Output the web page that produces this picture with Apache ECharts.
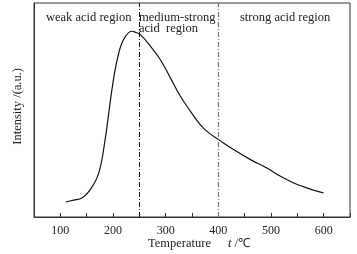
<!DOCTYPE html>
<html>
<head>
<meta charset="utf-8">
<script src="https://cdn.jsdelivr.net/npm/echarts@6/dist/echarts.min.js"></script>
<style>
  html, body { margin: 0; padding: 0; background: #fff; }
  #chart { width: 357px; height: 254px; }
</style>
</head>
<body>
<div id="chart"></div>
<script>
// temperature (℃) vs intensity (a.u., arbitrary scale 0-100)
const temps = [110, 125, 141, 157, 173, 185, 198, 208, 220, 236, 242, 252, 271, 290, 309, 328, 347, 366, 382, 401, 429, 461, 492, 518, 543, 568, 600];
const intensity = [7.0, 7.9, 8.9, 12.8, 20.6, 36.1, 59.5, 73.5, 82.9, 86.8, 86.4, 85.2, 79.8, 73.5, 65.0, 56.4, 49.4, 43.1, 39.3, 36.1, 31.5, 26.8, 22.9, 19.0, 15.9, 13.6, 11.2];
const xTicks = [100, 200, 300, 400, 500, 600];
const boundaries = [250, 400];
const regionNames = ['weak acid region', 'medium-strong\nacid  region', 'strong acid region'];

const font = '"Liberation Serif", "Times New Roman", serif';
const chart = echarts.init(document.getElementById('chart'));

const option = {
  animation: false,
  grid: { left: 34, right: 7, top: 3, bottom: 37, show: true, borderColor: '#333', borderWidth: 1 },
  xAxis: {
    type: 'value',
    min: 50,
    max: 650,
    interval: 50,
    axisLine: { show: true, onZero: false, lineStyle: { color: '#333', width: 1 } },
    axisTick: { show: true, inside: true, length: 4, lineStyle: { color: '#333' } },
    splitLine: { show: false },
    axisLabel: {
      color: '#222', fontFamily: font, fontSize: 12, margin: 8,
      formatter: v => xTicks.indexOf(v) >= 0 ? String(v) : ''
    }
  },
  yAxis: {
    type: 'value',
    min: 0,
    max: 100,
    axisLine: { show: true, lineStyle: { color: '#333', width: 1 } },
    axisTick: { show: false },
    axisLabel: { show: false },
    splitLine: { show: false }
  },
  series: [{
    type: 'line',
    data: temps.map((t, i) => [t, intensity[i]]),
    smooth: 0.4,
    showSymbol: false,
    lineStyle: { color: '#111', width: 1.2 },
    markLine: {
      silent: true,
      symbol: 'none',
      label: { show: false },
      data: [
        { xAxis: boundaries[0], lineStyle: { color: '#111', width: 1, type: [5, 2, 1, 2] } },
        { xAxis: boundaries[1], lineStyle: { color: '#777', width: 1.2, type: [5, 2, 1, 2] } }
      ]
    }
  }],
  graphic: [
    { type: 'text', left: 46, top: 11, style: { text: regionNames[0], font: '12.5px ' + font, fill: '#222' } },
    { type: 'text', left: 139, top: 11, style: { text: regionNames[1], font: '12.5px ' + font, fill: '#222', lineHeight: 11 } },
    { type: 'text', left: 240, top: 11, style: { text: regionNames[2], font: '12.5px ' + font, fill: '#222' } },
    { type: 'text', left: 148, top: 237, style: { text: 'Temperature', font: '12.5px ' + font, fill: '#222' } },
    { type: 'text', left: 228, top: 237, style: { text: '{i|t} /℃', font: '12.5px ' + font, fill: '#222', rich: { i: { fontStyle: 'italic', fontFamily: font, fontSize: 12.5 } } } },
    { type: 'text', left: 11, top: 68, rotation: Math.PI / 2, style: { text: 'Intensity /(a.u.)', font: '12.5px ' + font, fill: '#222', align: 'center', verticalAlign: 'middle' } }
  ]
};
chart.setOption(option);
</script>
</body>
</html>
